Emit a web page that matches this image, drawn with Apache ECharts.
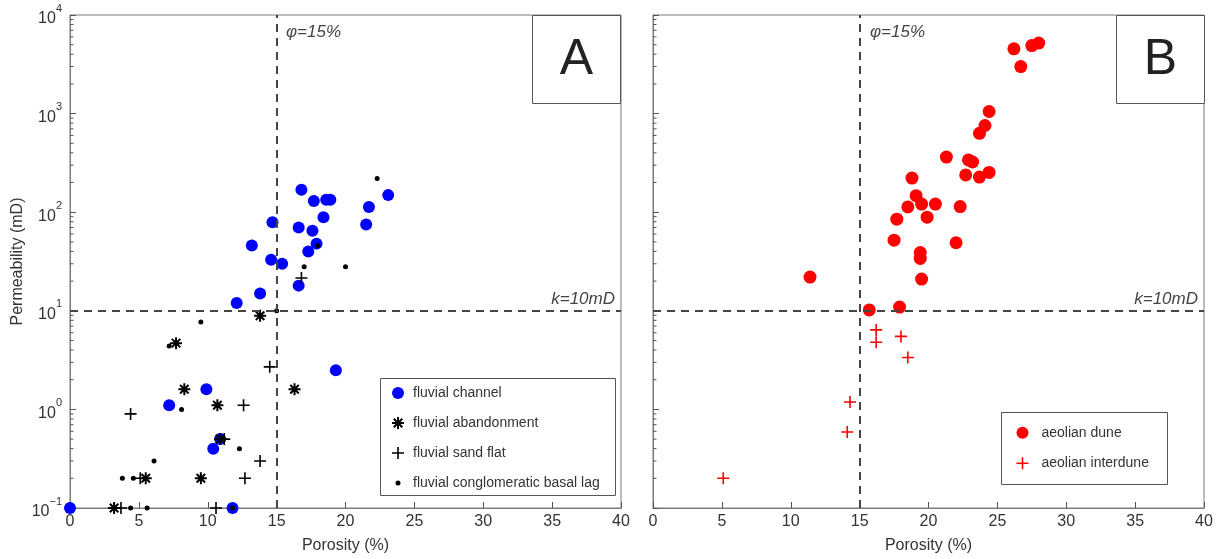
<!DOCTYPE html>
<html>
<head>
<meta charset="utf-8">
<script src="https://cdn.jsdelivr.net/npm/echarts@6/dist/echarts.min.js"></script>
<style>
html,body{margin:0;padding:0;background:#fff;}
#chart{width:1220px;height:559px;}
</style>
</head>
<body>
<div id="chart"></div>
<script>
// Samples as [porosity (%), permeability (mD)]
const fluvialChannel = [
  [0.0,0.1],[11.8,0.1],[7.2,1.1],[9.9,1.6],[10.4,0.4],[10.9,0.5],[19.3,2.5],
  [12.1,12],[13.8,15],[13.2,46],[14.6,33],[15.4,30],[14.7,79],
  [16.6,18],[16.6,70],[16.8,169],[17.3,40],[17.6,65],[17.7,130],[17.9,48],
  [18.4,89],[18.6,134],[18.9,134],[21.5,75],[21.7,113],[23.1,149]
];
const fluvialAbandonment = [
  [3.2,0.1],[5.5,0.2],[9.5,0.2],[10.9,0.5],[10.7,1.1],[8.3,1.6],[16.3,1.6],[7.7,4.7],[13.8,8.9]
];
const fluvialSandFlat = [
  [3.7,0.1],[10.6,0.1],[5.1,0.2],[12.7,0.2],[13.8,0.3],[11.2,0.5],[4.4,0.9],[12.6,1.1],[14.5,2.7],[16.8,21.5]
];
const fluvialBasalLag = [
  [4.4,0.1],[5.6,0.1],[11.8,0.1],[3.8,0.2],[4.6,0.2],[6.1,0.3],[12.3,0.4],[8.1,1.0],
  [7.2,4.4],[9.5,7.7],[15.0,10],[17.0,28],[20.0,28],[18.0,46],[22.3,220]
];
const aeolianDune = [
  [11.4,22],[15.7,10.2],[17.9,10.9],[19.5,21],[19.4,34],[19.4,39],[17.5,52],[22.0,49],
  [17.7,85],[19.9,89],[18.5,113],[19.5,121],[20.5,121],[22.3,114],[19.1,147],[18.8,222],
  [21.3,362],[22.7,239],[23.7,227],[24.4,253],[22.9,339],[23.2,323],[23.7,631],[24.1,757],
  [24.4,1050],[26.7,3000],[26.2,4540],[27.5,4900],[28.0,5190]
];
const aeolianInterdune = [
  [5.1,0.2],[14.1,0.59],[14.3,1.19],[16.2,4.8],[16.2,6.4],[18.0,5.5],[18.5,3.36]
];

// Axis ranges and cut-offs
const porosityRange = [0, 40];
const porosityStep = 5;
const permeabilityRange = [0.1, 10000];
const porosityCutoff = 15;
const permeabilityCutoff = 10;
const panelLetters = ['A', 'B'];
const cutoffLabels = ['\u03c6=15%', 'k=10mD'];

const FONT = '"Liberation Sans", Arial, sans-serif';
const TEXT = '#333';
const FRAME = '#7a7a7a';

// log minor tick positions 2..9 x 10^d
const minorTicks = [];
for (let d = Math.log10(permeabilityRange[0]); d < Math.log10(permeabilityRange[1]); d++) {
  for (let m = 2; m <= 9; m++) minorTicks.push([porosityRange[0], m * Math.pow(10, d)]);
}

const plusPath = 'path://M-0.8,-6L0.8,-6L0.8,-0.8L6,-0.8L6,0.8L0.8,0.8L0.8,6L-0.8,6L-0.8,0.8L-6,0.8L-6,-0.8L-0.8,-0.8Z';
const starPath = 'path://M-1,-6L1,-6L1,6L-1,6Z M-6,-1L6,-1L6,1L-6,1Z ' +
  'M-3.54,-4.95L4.95,3.54L3.54,4.95L-4.95,-3.54Z M-3.54,4.95L-4.95,3.54L3.54,-4.95L4.95,-3.54Z';

function supLabel(v) {
  const e = Math.round(Math.log10(v));
  return '{a|10}{b|' + (e < 0 ? '\u2212' + (-e) : e) + '}';
}

function xAxisFor(i) {
  return {
    gridIndex: i, type: 'value', min: porosityRange[0], max: porosityRange[1], interval: porosityStep,
    name: 'Porosity (%)', nameLocation: 'middle', nameGap: 30,
    nameTextStyle: { fontSize: 16, color: TEXT, fontFamily: FONT },
    axisLine: { lineStyle: { color: FRAME, width: 1 } },
    axisTick: { inside: true, length: 6, lineStyle: { color: '#555' } },
    axisLabel: { fontSize: 16, color: TEXT, fontFamily: FONT, margin: 6 },
    splitLine: { show: false }
  };
}
function yAxisFor(i) {
  return {
    gridIndex: i, type: 'log', logBase: 10, min: permeabilityRange[0], max: permeabilityRange[1],
    name: i === 0 ? 'Permeability (mD)' : '', nameLocation: 'middle', nameGap: 44,
    nameTextStyle: { fontSize: 16, color: TEXT, fontFamily: FONT },
    axisLine: { lineStyle: { color: FRAME, width: 1 } },
    axisTick: { inside: true, length: 6, lineStyle: { color: '#555' } },
    axisLabel: {
      show: i === 0, margin: 8, formatter: supLabel,
      rich: {
        a: { fontSize: 16, color: TEXT, fontFamily: FONT, lineHeight: 24, verticalAlign: 'bottom' },
        b: { fontSize: 11, color: TEXT, fontFamily: FONT, lineHeight: 12, verticalAlign: 'top' }
      }
    },
    splitLine: { show: false }
  };
}

function cutoffLines() {
  return {
    silent: true, symbol: 'none', animation: false,
    lineStyle: { color: '#444', width: 2, type: [8, 6] },
    label: { show: false },
    data: [{ xAxis: porosityCutoff }, { yAxis: permeabilityCutoff }]
  };
}

function minorTickSeries(i) {
  return {
    type: 'custom', xAxisIndex: i, yAxisIndex: i, silent: true, clip: false, z: 5,
    data: minorTicks,
    renderItem: function (params, api) {
      const p = api.coord([api.value(0), api.value(1)]);
      return { type: 'line', shape: { x1: p[0], y1: p[1], x2: p[0] + 3.5, y2: p[1] },
               style: { stroke: '#555', lineWidth: 1 } };
    }
  };
}

const legendText = { fontSize: 14, lineHeight: 16, color: TEXT, fontFamily: FONT };

const option = {
  animation: false,
  backgroundColor: '#fff',
  grid: [
    { left: 70, top: 15, width: 551, height: 493, show: true, borderColor: FRAME, borderWidth: 1 },
    { left: 653, top: 15, width: 551, height: 493, show: true, borderColor: FRAME, borderWidth: 1 }
  ],
  xAxis: [xAxisFor(0), xAxisFor(1)],
  yAxis: [yAxisFor(0), yAxisFor(1)],
  legend: [
    { data: ['fluvial channel', 'fluvial abandonment', 'fluvial sand flat'], orient: 'vertical',
      left: 392, top: 385, itemWidth: 12, itemHeight: 12, itemGap: 14, padding: 0,
      textStyle: Object.assign({ padding: [0, 0, 0, 4] }, legendText), z: 10 },
    { data: ['fluvial conglomeratic basal lag'], orient: 'vertical',
      left: 395.5, top: 475, itemWidth: 5, itemHeight: 5, padding: 0,
      textStyle: Object.assign({ padding: [0, 0, 0, 7.5] }, legendText), z: 10 },
    { data: ['aeolian dune', 'aeolian interdune'], orient: 'vertical',
      left: 1016.5, top: 424.7, itemWidth: 12, itemHeight: 12, itemGap: 14.6, padding: 0,
      textStyle: Object.assign({ padding: [0, 0, 0, 8] }, legendText), z: 10 }
  ],
  graphic: [
    { type: 'rect', z: 8, shape: { x: 380.5, y: 378.5, width: 235, height: 117 },
      style: { fill: '#fff', stroke: '#555', lineWidth: 1 } },
    { type: 'rect', z: 8, shape: { x: 1001.5, y: 412.5, width: 166, height: 72 },
      style: { fill: '#fff', stroke: '#555', lineWidth: 1 } },
    { type: 'rect', z: 8, shape: { x: 532.5, y: 15.5, width: 88, height: 88 },
      style: { fill: '#fff', stroke: '#555', lineWidth: 1 } },
    { type: 'rect', z: 8, shape: { x: 1116.5, y: 15.5, width: 88, height: 88 },
      style: { fill: '#fff', stroke: '#555', lineWidth: 1 } },
    { type: 'text', z: 9, x: 576.5, y: 60, style: { text: panelLetters[0], fontSize: 50, fill: '#222',
      fontFamily: FONT, textAlign: 'center', textVerticalAlign: 'middle' } },
    { type: 'text', z: 9, x: 1160.5, y: 60, style: { text: panelLetters[1], fontSize: 50, fill: '#222',
      fontFamily: FONT, textAlign: 'center', textVerticalAlign: 'middle' } },
    { type: 'text', z: 9, x: 286, y: 32, style: { text: cutoffLabels[0], fontSize: 17, fontStyle: 'italic',
      fill: '#444', fontFamily: FONT, textVerticalAlign: 'middle' } },
    { type: 'text', z: 9, x: 870, y: 32, style: { text: cutoffLabels[0], fontSize: 17, fontStyle: 'italic',
      fill: '#444', fontFamily: FONT, textVerticalAlign: 'middle' } },
    { type: 'text', z: 9, x: 615, y: 299, style: { text: cutoffLabels[1], fontSize: 17, fontStyle: 'italic',
      fill: '#444', fontFamily: FONT, textAlign: 'right', textVerticalAlign: 'middle' } },
    { type: 'text', z: 9, x: 1198, y: 299, style: { text: cutoffLabels[1], fontSize: 17, fontStyle: 'italic',
      fill: '#444', fontFamily: FONT, textAlign: 'right', textVerticalAlign: 'middle' } }
  ],
  series: [
    { name: 'fluvial channel', type: 'scatter', xAxisIndex: 0, yAxisIndex: 0, data: fluvialChannel,
      symbol: 'circle', symbolSize: 12, itemStyle: { color: '#0000ff', opacity: 1 }, clip: false,
      markLine: cutoffLines() },
    { name: 'fluvial abandonment', type: 'scatter', xAxisIndex: 0, yAxisIndex: 0, data: fluvialAbandonment,
      symbol: starPath, symbolSize: 12, itemStyle: { color: '#000', opacity: 1 }, clip: false },
    { name: 'fluvial sand flat', type: 'scatter', xAxisIndex: 0, yAxisIndex: 0, data: fluvialSandFlat,
      symbol: plusPath, symbolSize: 12, itemStyle: { color: '#000', opacity: 1 }, clip: false },
    { name: 'fluvial conglomeratic basal lag', type: 'scatter', xAxisIndex: 0, yAxisIndex: 0, data: fluvialBasalLag,
      symbol: 'circle', symbolSize: 5, itemStyle: { color: '#000', opacity: 1 }, clip: false },
    { name: 'aeolian dune', type: 'scatter', xAxisIndex: 1, yAxisIndex: 1, data: aeolianDune,
      symbol: 'circle', symbolSize: 13, itemStyle: { color: '#ff0000', opacity: 1 }, clip: false,
      markLine: cutoffLines() },
    { name: 'aeolian interdune', type: 'scatter', xAxisIndex: 1, yAxisIndex: 1, data: aeolianInterdune,
      symbol: plusPath, symbolSize: 12, itemStyle: { color: '#ff0000', opacity: 1 }, clip: false },
    minorTickSeries(0),
    minorTickSeries(1)
  ]
};

const chart = echarts.init(document.getElementById('chart'), null, { renderer: 'canvas' });
chart.setOption(option);
</script>
</body>
</html>
